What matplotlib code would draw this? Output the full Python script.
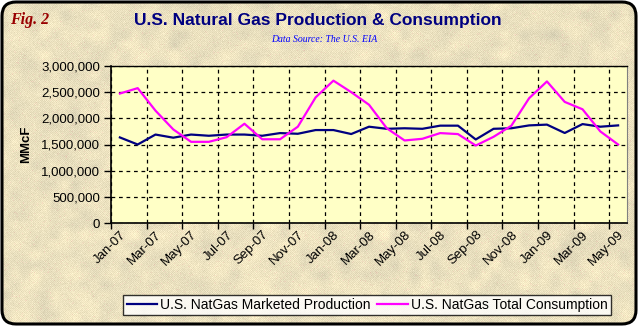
import numpy as np
import matplotlib.pyplot as plt
from matplotlib.patches import FancyBboxPatch

plt.rcParams['font.family'] = ['Liberation Sans', 'DejaVu Sans']

# monthly data, Jan-07 .. May-09 (MMcF)
production = [1635000, 1500000, 1690000, 1630000, 1690000, 1667000, 1690000, 1690000,
              1667000, 1718000, 1705000, 1776000, 1776000, 1700000, 1840000, 1800000,
              1810000, 1800000, 1860000, 1860000, 1596000, 1800000, 1810000, 1865000,
              1880000, 1720000, 1890000, 1840000, 1865000]
consumption = [2474000, 2577000, 2147000, 1788000, 1551000, 1551000, 1640000, 1897000,
               1600000, 1600000, 1840000, 2400000, 2720000, 2500000, 2260000, 1810000,
               1577000, 1609000, 1718000, 1699000, 1480000, 1647000, 1859000, 2385000,
               2705000, 2314000, 2173000, 1750000, 1500000]
tick_labels = ['Jan-07', 'Mar-07', 'May-07', 'Jul-07', 'Sep-07', 'Nov-07', 'Jan-08',
               'Mar-08', 'May-08', 'Jul-08', 'Sep-08', 'Nov-08', 'Jan-09', 'Mar-09',
               'May-09']

W, H = 639, 327
fig = plt.figure(figsize=(W / 100, H / 100), dpi=100, facecolor='white')

# parchment background inside a rounded frame
bg = fig.add_axes([0, 0, 1, 1])
bg.set_xlim(0, W)
bg.set_ylim(H, 0)
bg.axis('off')
rng = np.random.default_rng(7)
base = np.array([236, 226, 192], dtype=float)
yy, xx = np.mgrid[0:H, 0:W]
checker = ((xx + yy) % 2) * 12 - 6
blot = rng.normal(0, 1, (H // 10 + 2, W // 10 + 2))
blot = np.kron(blot, np.ones((10, 10)))[:H, :W]
k = np.ones(7) / 7
for _ in range(2):
    blot = np.apply_along_axis(lambda r: np.convolve(r, k, mode='same'), 1, blot)
    blot = np.apply_along_axis(lambda c: np.convolve(c, k, mode='same'), 0, blot)
speck = rng.normal(0, 4, (H, W))
pink = (rng.random((H, W)) > 0.97) * 12
tex = np.empty((H, W, 3))
tex[..., 0] = base[0] + checker + blot * 7 + speck + pink * 0.3
tex[..., 1] = base[1] + checker + blot * 6 + speck - pink
tex[..., 2] = base[2] + checker * 1.2 + blot * 4 + speck - pink * 0.3
tex = np.clip(tex, 0, 255) / 255
im = bg.imshow(tex, extent=(0, W, H, 0), interpolation='nearest', zorder=0)
frame = FancyBboxPatch((2, 2), W - 5, H - 5,
                       boxstyle='round,pad=0,rounding_size=14',
                       facecolor='none', edgecolor='black', linewidth=2.2, zorder=2)
bg.add_patch(frame)
im.set_clip_path(frame)

ax = fig.add_axes([111 / W, (H - 223) / H, 516 / W, 157 / H], zorder=3)
ax.set_facecolor('#FFFFC6')

x = np.arange(len(production))
ax.plot(x, production, color='#000080', linewidth=1.6,
        label='U.S. NatGas Marketed Production', zorder=4)
ax.plot(x, consumption, color='#FF00FF', linewidth=1.6,
        label='U.S. NatGas Total Consumption', zorder=4)

ax.set_xlim(-0.5, len(x) - 0.5)
ax.set_ylim(0, 3000000)
ax.set_yticks(np.arange(0, 3000001, 500000))
ax.yaxis.set_major_formatter(plt.FuncFormatter(lambda v, p: f'{int(v):,}'))

# tick marks between categories, labels under every other month
ax.set_xticks(np.arange(-0.5, len(x), 2))
ax.set_xticklabels([])
ax.set_xticks(np.arange(0, len(x), 2), minor=True)
ax.set_xticklabels(tick_labels, minor=True, rotation=45, ha='right', va='top',
                   rotation_mode='anchor', fontsize=9.5)
ax.tick_params(axis='x', which='minor', length=0, pad=4)
ax.tick_params(axis='x', which='major', length=4, width=1, direction='out')
ax.tick_params(axis='y', length=5, width=1, direction='out', labelsize=9.5, pad=3)

ax.grid(True, which='major', color='black', linestyle=(0, (3, 3)), linewidth=0.9)
for s in ['left', 'bottom']:
    ax.spines[s].set_linewidth(1.2)
ax.spines['top'].set_linewidth(1.0)
ax.spines['right'].set_color('#808080')
ax.spines['right'].set_linewidth(0.8)

ax.set_ylabel('MMcF', fontsize=9.5, fontweight='bold', labelpad=6)

fig.text(318 / W, 1 - 20 / H, 'U.S. Natural Gas Production & Consumption',
         ha='center', va='center', fontsize=12.5, fontweight='bold', color='#000080')
fig.text(324 / W, 1 - 40 / H, 'Data Source: The U.S. EIA', ha='center', va='center',
         fontsize=7, style='italic', color='#0000FF', family='Liberation Serif')
fig.text(10 / W, 1 - 20 / H, 'Fig. 2', ha='left', va='center', fontsize=11.5,
         style='italic', fontweight='bold', color='#990000', family='Liberation Serif')

leg = fig.legend(loc='center', bbox_to_anchor=(367 / W, 1 - 305 / H), ncol=2,
                 fontsize=10, frameon=True, fancybox=False, handlelength=2.2,
                 handletextpad=0.2, columnspacing=0.5, borderpad=0.25)
leg.get_frame().set_edgecolor('black')
leg.get_frame().set_linewidth(1.0)
leg.get_frame().set_facecolor('white')
leg.set_zorder(5)

fig.savefig('out.png', dpi=100, facecolor='white')
